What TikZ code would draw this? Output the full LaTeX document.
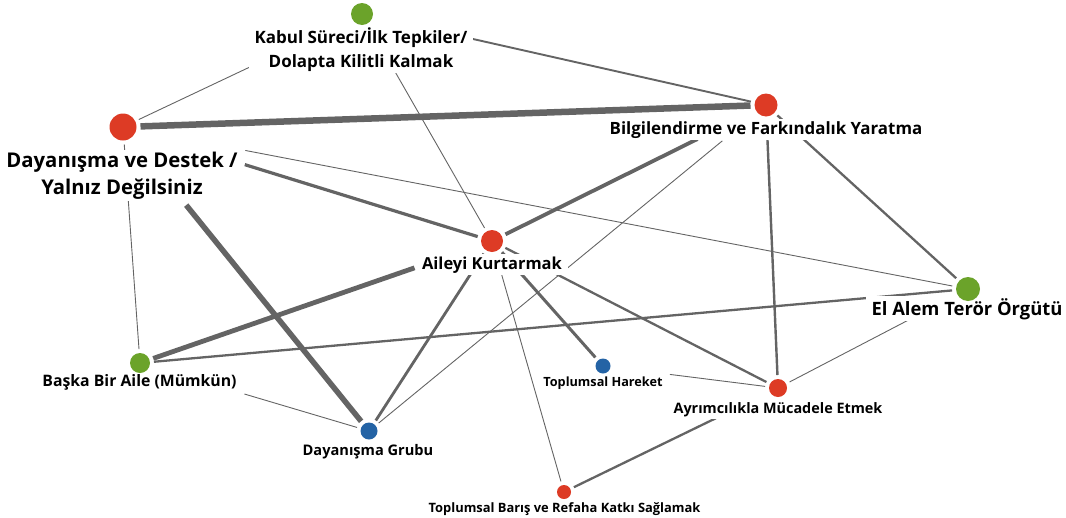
\documentclass[tikz,border=0pt]{standalone}
\usepackage{fontspec}
\setmainfont{Open Sans}
\usetikzlibrary{positioning,backgrounds}
\definecolor{cred}{RGB}{221,59,37}
\definecolor{cgreen}{RGB}{107,163,42}
\definecolor{cblue}{RGB}{36,99,165}
\definecolor{egray}{RGB}{100,100,100}

\begin{document}
\begin{tikzpicture}[x=1pt, y=-1pt,
    dot/.style={circle, inner sep=0pt, outer sep=4pt},
    link/.style={draw=egray},
    lbl/.style={fill=white, inner xsep=6pt, inner ysep=2pt, align=center, anchor=base}]
\useasboundingbox (0,0) rectangle (1066,517);

% Labels (two-line ones sit on their last baseline)
\node[lbl, font=\fontsize{17}{23.5}\selectfont\bfseries] (kab-l) at (361,67) {Kabul Süreci/İlk Tepkiler/\\Dolapta Kilitli Kalmak};
\node[lbl, font=\fontsize{20.3}{27}\selectfont\bfseries] (dd-l) at (122,194) {Dayanışma ve Destek /\\Yalnız Değilsiniz};
\node[lbl, font=\fontsize{16.9}{20}\selectfont\bfseries] (bil-l) at (766,134) {Bilgilendirme ve Farkındalık Yaratma};
\node[lbl, font=\fontsize{16.5}{20}\selectfont\bfseries] (ail-l) at (492,269) {Aileyi Kurtarmak};
\node[lbl, font=\fontsize{18.4}{22}\selectfont\bfseries] (ela-l) at (967,315) {El Alem Terör Örgütü};
\node[lbl, font=\fontsize{15.8}{20}\selectfont\bfseries] (bba-l) at (139.5,386.7) {Başka Bir Aile (Mümkün)};
\node[lbl, font=\fontsize{12.7}{16}\selectfont\bfseries] (th-l) at (603,386.7) {Toplumsal Hareket};
\node[lbl, font=\fontsize{14.4}{18}\selectfont\bfseries] (ay-l) at (778,413.3) {Ayrımcılıkla Mücadele Etmek};
\node[lbl, font=\fontsize{14.6}{18}\selectfont\bfseries] (dg-l) at (368,455) {Dayanışma Grubu};
\node[lbl, font=\fontsize{12.9}{16}\selectfont\bfseries] (tb-l) at (564.5,512.3) {Toplumsal Barış ve Refaha Katkı Sağlamak};

% Codes
\foreach \n/\x/\y/\d/\c in {kab/362/14/22/cgreen, dd/123/127/27/cred, bil/766/105/23/cred,
    ail/492/241/22/cred, ela/968/289/24/cgreen, bba/140/363/20/cgreen, th/603/366/15/cblue,
    ay/778/388/18/cred, dg/369/431/17/cblue, tb/564/492/14/cred}
    \node[dot, fill=\c, minimum size=\d pt] (\n) at (\x,\y) {};

% Links (from/to/width/gap at start/gap at end)
\begin{scope}[on background layer]
\foreach \a/\b/\w/\s/\e in {dd/bil/6.5/0/0, dd/dg/5.5/83/0, ail/bba/4.8/67/0, bil/ail/3.8/61/0,
    dd/ail/3.2/110/0, ail/th/3/0/0, ail/dg/2.8/0/0, bil/ay/2.4/0/0, bil/ela/2.3/0/0,
    ail/ay/2.3/0/0, ela/bba/2.3/0/0, ay/tb/2.3/56/0, kab/bil/1.9/96/0,
    dd/kab/0.9/0/109, kab/ail/0.9/0/0, dd/ela/0.9/107/0, dd/bba/0.9/0/0, bil/dg/0.9/41/0,
    ail/tb/0.9/0/0, ela/ay/0.9/0/0, bba/dg/0.9/95/0, th/ay/0.9/56/0}
    \draw[link, line width=\w pt, shorten <=\s pt, shorten >=\e pt] (\a) -- (\b);
\end{scope}
\end{tikzpicture}
\end{document}
